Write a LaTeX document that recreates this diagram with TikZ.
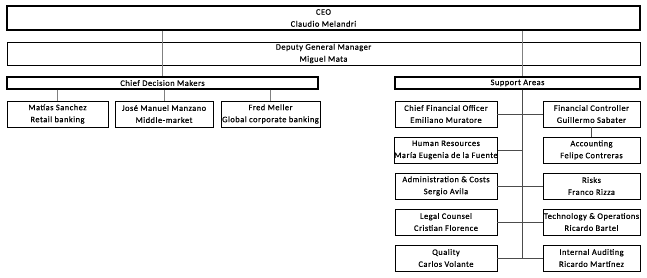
\documentclass[tikz,border=0pt]{standalone}
\usepackage{fontspec}
\setmainfont{Carlito}[LetterSpace=6, FakeBold=0.5]
\usetikzlibrary{positioning,calc}

\begin{document}
\begin{tikzpicture}[x=1pt, y=-1pt, every node/.style={draw, rectangle, line width=0.9pt, align=center, inner sep=0pt, font=\fontsize{8.4}{12}\selectfont}, head/.style={minimum height=12pt}, unit/.style={minimum width=99pt, minimum height=26pt}, topline/.style={draw=gray, line width=1pt}, subline/.style={draw=black!70, line width=0.8pt}]
\useasboundingbox (0,0) rectangle (647,278);
\node (ceo) [minimum width=633pt, minimum height=24pt, line width=1.1pt] at (323.5,18) {CEO\\Claudio Melandri};
\node (dgm) [minimum width=633pt, minimum height=23pt] at (323.5,53.5) {Deputy General Manager\\Miguel Mata};
\node (cdm) [head, minimum width=311pt, line width=1.1pt] at (162.5,83) {Chief Decision Makers};
\node (supp) [head, minimum width=245pt, line width=1.1pt] at (517.5,83) {Support Areas};
\coordinate (spine) at (522,0);
\node (matias) [unit, minimum width=101pt] at (57.5,114) {Matías Sanchez\\Retail banking};
\node (jose) [unit, minimum width=98pt] at (164,114) {José Manuel Manzano\\Middle-market};
\node (fred) [unit] at (270.5,114) {Fred Meller\\Global corporate banking};
\node (cfo) [unit, minimum width=102pt] at (446,114) {Chief Financial Officer\\Emiliano Muratore};
\node (hr) [unit, minimum width=102pt] at (446,150) {Human Resources\\María Eugenia de la Fuente};
\node (admin) [unit, minimum width=102pt] at (446,186) {Administration \& Costs\\Sergio Avila};
\node (legal) [unit, minimum width=102pt] at (446,222) {Legal Counsel\\Cristian Florence};
\node (quality) [unit, minimum width=102pt] at (446,258) {Quality\\Carlos Volante};
\node (fc) [unit, minimum width=97pt] at (591.5,114) {Financial Controller\\Guillermo Sabater};
\node (acct) [unit, minimum width=97pt] at (591.5,150) {Accounting\\Felipe Contreras};
\node (risks) [unit, minimum width=97pt] at (591.5,186) {Risks\\Franco Rizza};
\node (tech) [unit, minimum width=97pt] at (591.5,222) {Technology \& Operations\\Ricardo Bartel};
\node (audit) [unit, minimum width=97pt] at (591.5,258) {Internal Auditing\\Ricardo Martínez};
\draw[topline] (ceo.south -| cdm.north) -- (cdm.north);
\draw[topline] (ceo.south -| spine) -- (supp.north -| spine);
\draw[topline] (cdm.south -| matias.north) -- (matias.north);
\draw[topline] (cdm.south -| jose.north) -- (jose.north);
\draw[topline] (cdm.south -| fred.north) -- (fred.north);
\draw[subline] (supp.south -| spine) -- (quality.east -| spine);
\draw[subline] (cfo.east) -- (fc.west);
\draw[subline] (hr.east) -- (hr.east -| spine);
\draw[subline] (admin.east) -- (risks.west);
\draw[subline] (legal.east) -- (tech.west);
\draw[subline] (quality.east) -- (audit.west);
\draw[subline] (fc.south) -- (acct.north);
\end{tikzpicture}
\end{document}
